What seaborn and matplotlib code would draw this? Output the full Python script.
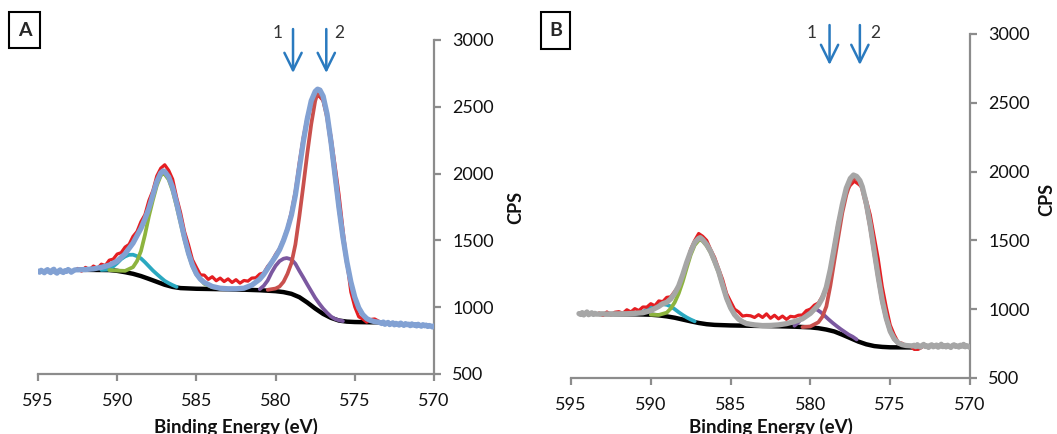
import numpy as np
import matplotlib
matplotlib.use("Agg")
import matplotlib.pyplot as plt
import seaborn as sns
from matplotlib.patches import Rectangle

sns.set_style("white")
plt.rcParams["font.family"] = ["Lato", "DejaVu Sans"]

# ---------------- Panel A data ----------------
A_edgeL_x = np.round(np.arange(595.0, 592.55, -0.1), 2)
A_edgeL_y = [1270, 1262, 1276, 1268, 1258, 1274, 1281, 1266, 1259, 1277, 1284, 1263, 1255,
             1271, 1279, 1265, 1260, 1273, 1268, 1282, 1274, 1262, 1270, 1278, 1280]
A_env_x = [592.5, 592.0, 591.5, 591.0, 590.5, 590.0, 589.5, 589.0, 588.5, 588.25, 588.0, 587.75,
           587.5, 587.25, 587.1, 587.0, 586.75, 586.5, 586.25, 586.0, 585.75, 585.5, 585.25, 585.0,
           584.75, 584.5, 584.0, 583.5, 583.0, 582.5, 582.0, 581.5, 581.0, 580.75, 580.5, 580.25,
           580.0, 579.75, 579.5, 579.25, 579.0, 578.75, 578.5, 578.25, 578.0, 577.75, 577.5, 577.35,
           577.2, 577.0, 576.75, 576.5, 576.25, 576.0, 575.75, 575.5, 575.25, 575.0, 574.75, 574.5,
           574.25, 574.0, 573.75, 573.5]
A_env_y = [1280, 1282, 1287, 1298, 1315, 1345, 1400, 1480, 1590, 1660, 1740, 1840,
           1940, 2005, 2020, 2015, 1975, 1895, 1780, 1650, 1520, 1405, 1315, 1250,
           1210, 1185, 1155, 1142, 1138, 1138, 1142, 1165, 1210, 1245, 1290, 1335,
           1380, 1430, 1500, 1585, 1690, 1840, 2040, 2240, 2410, 2545, 2615, 2632,
           2625, 2580, 2445, 2235, 1990, 1745, 1525, 1340, 1190, 1075, 995, 945,
           915, 900, 892, 888]
A_edgeR_x = np.round(np.arange(573.4, 569.95, -0.1), 2)
A_edgeR_y = [884, 878, 889, 872, 880, 886, 870, 876, 883, 868, 879, 874, 866, 881, 872, 864, 877,
             869, 873, 862, 875, 866, 870, 860, 872, 864, 858, 869, 861, 866, 856, 863, 859, 852, 860]

A_raw_x = np.round(np.arange(592.5, 573.45, -0.25), 2)
A_raw_y = [1290, 1270, 1298, 1280, 1308, 1290, 1322, 1312, 1352, 1360, 1398,
           1408, 1450, 1470, 1530, 1566, 1640, 1692, 1798, 1872, 1982, 2040,
           2066, 2024, 1958, 1822, 1708, 1566, 1468, 1356, 1298, 1242, 1240,
           1208, 1228, 1198, 1218, 1192, 1212, 1185, 1206, 1180, 1200, 1195,
           1218, 1220, 1248, 1256, 1306, 1340, 1396, 1440, 1510, 1595, 1716,
           1874, 2086, 2274, 2426, 2504, 2576, 2580, 2546, 2434, 2276, 2064,
           1846, 1584, 1340, 1114, 1002, 928, 912, 888, 908, 912, 896]

A_bg_x = [592.5, 591.5, 590.5, 590.0, 589.5, 589.0, 588.5, 588.0, 587.5, 587.0, 586.5, 586.0,
          585.0, 584.0, 583.0, 582.0, 581.0, 580.0, 579.5, 579.0, 578.5, 578.0, 577.5, 577.0,
          576.5, 576.0, 575.5, 575.0, 574.0, 573.5]
A_bg_y = [1280, 1279, 1278, 1272, 1262, 1250, 1233, 1212, 1190, 1168, 1152, 1143,
          1138, 1136, 1134, 1131, 1127, 1120, 1113, 1100, 1075, 1035, 990, 950,
          920, 900, 892, 889, 887, 887]

A_cy_x = [591.0, 590.5, 590.25, 590.0, 589.75, 589.5, 589.25, 589.0, 588.75, 588.5, 588.25, 588.0,
          587.75, 587.5, 587.25, 587.0, 586.75, 586.5, 586.25]
A_cy_y = [1279, 1282, 1305, 1330, 1360, 1380, 1392, 1393, 1382, 1365, 1337, 1306,
          1275, 1248, 1222, 1197, 1180, 1165, 1152]

A_gr_x = [590.5, 590.0, 589.5, 589.0, 588.75, 588.5, 588.25, 588.0, 587.75, 587.5, 587.25, 587.1,
          587.0, 586.75, 586.5, 586.25, 586.0, 585.75, 585.5, 585.25, 585.0, 584.5, 584.0, 583.5]
A_gr_y = [1278, 1274, 1272, 1300, 1345, 1420, 1540, 1680, 1800, 1910, 1985, 2000,
          1995, 1955, 1870, 1755, 1630, 1505, 1395, 1305, 1245, 1175, 1150, 1140]

A_pu_x = [581.0, 580.75, 580.5, 580.25, 580.0, 579.75, 579.5, 579.3, 579.0, 578.75, 578.5, 578.25,
          578.0, 577.75, 577.5, 577.25, 577.0, 576.75, 576.5, 576.25, 576.0, 575.75]
A_pu_y = [1135, 1160, 1200, 1260, 1310, 1345, 1363, 1368, 1358, 1325, 1272, 1222,
          1170, 1120, 1070, 1028, 990, 958, 930, 912, 902, 896]

A_dr_x = [580.5, 580.0, 579.75, 579.5, 579.25, 579.0, 578.75, 578.5, 578.25, 578.0, 577.75, 577.5,
          577.35, 577.2, 577.0, 576.75, 576.5, 576.25, 576.0, 575.75, 575.5, 575.25, 575.0, 574.75,
          574.5, 574.25, 574.0, 573.75, 573.5]
A_dr_y = [1130, 1140, 1155, 1190, 1250, 1330, 1470, 1680, 1910, 2150, 2370, 2545,
          2600, 2595, 2550, 2420, 2215, 1975, 1735, 1515, 1330, 1185, 1070, 990,
          940, 912, 898, 890, 887]

# ---------------- Panel B data ----------------
B_edgeL_x = np.round(np.arange(594.5, 593.35, -0.1), 2)
B_edgeL_y = [968, 962, 975, 958, 970, 980, 960, 966, 974, 962, 970, 964]
B_env_x = [593.25, 592.5, 591.5, 591.0, 590.5, 590.0, 589.5, 589.25, 589.0, 588.75, 588.5, 588.25,
           588.0, 587.75, 587.5, 587.25, 587.0, 586.9, 586.75, 586.5, 586.25, 586.0, 585.75, 585.5,
           585.25, 585.0, 584.75, 584.5, 584.25, 584.0, 583.5, 583.0, 582.5, 582.0, 581.5, 581.0,
           580.5, 580.0, 579.75, 579.5, 579.25, 579.0, 578.75, 578.5, 578.25, 578.0, 577.75, 577.5,
           577.3, 577.1, 576.9, 576.75, 576.5, 576.25, 576.0, 575.75, 575.5, 575.25, 575.0, 574.75,
           574.5, 574.25, 574.0, 573.6]
B_env_y = [965, 966, 967, 970, 974, 990, 1020, 1040, 1050, 1075, 1115, 1170,
           1250, 1340, 1420, 1485, 1515, 1520, 1505, 1470, 1420, 1350, 1275, 1175,
           1080, 1010, 960, 928, 908, 895, 886, 881, 882, 886, 895, 910,
           930, 970, 1000, 1030, 1080, 1160, 1290, 1450, 1615, 1760, 1880, 1950,
           1975, 1965, 1935, 1890, 1770, 1610, 1420, 1235, 1065, 935, 840, 785,
           755, 742, 736, 733]
B_edgeR_x = np.round(np.arange(573.5, 569.95, -0.1), 2)
B_edgeR_y = [738, 728, 742, 731, 725, 737, 744, 729, 734, 722, 736, 741, 727, 733, 739, 724, 731,
             745, 728, 735, 726, 738, 730, 722, 736, 741, 729, 733, 725, 738, 731, 744, 727, 735,
             729, 722]

B_raw_x = np.round(np.arange(593.25, 572.95, -0.25), 2)
B_raw_y = [972, 955, 980, 960, 978, 982, 970, 996, 980, 1004, 990,
           1016, 1015, 1040, 1025, 1060, 1055, 1086, 1090, 1130, 1165, 1250,
           1325, 1436, 1500, 1550, 1530, 1500, 1434, 1376, 1294, 1216, 1114,
           1056, 1000, 980, 950, 955, 952, 940, 960, 940, 966, 934,
           956, 930, 950, 926, 948, 944, 956, 958, 990, 1000, 1030,
           1045, 1095, 1160, 1295, 1465, 1635, 1755, 1855, 1900, 1930, 1910,
           1885, 1795, 1685, 1525, 1365, 1165, 1015, 885, 815, 760, 752,
           734, 734, 708, 708, 724]

B_bg_x = [593.25, 591.0, 590.0, 589.5, 589.0, 588.5, 588.0, 587.5, 587.0, 586.5, 586.0, 585.0,
          584.0, 583.0, 582.0, 581.0, 580.0, 579.5, 579.0, 578.5, 578.0, 577.5, 577.0, 576.5,
          576.0, 575.5, 575.0, 573.6]
B_bg_y = [965, 963, 960, 955, 948, 938, 925, 912, 900, 891, 886, 882,
          880, 878, 876, 873, 868, 862, 852, 838, 815, 790, 765, 745,
          732, 726, 723, 722]

B_cy_x = [591.0, 590.75, 590.5, 590.25, 590.0, 589.75, 589.5, 589.25, 589.0, 588.75, 588.5, 588.25,
          588.0, 587.75, 587.5, 587.25]
B_cy_y = [964, 972, 982, 996, 1010, 1024, 1033, 1036, 1032, 1020, 1000, 978,
          958, 940, 925, 912]

B_gr_x = [590.0, 589.5, 589.0, 588.75, 588.5, 588.25, 588.0, 587.75, 587.5, 587.25, 587.0, 586.9,
          586.75, 586.5, 586.25, 586.0, 585.75, 585.5, 585.25, 585.0, 584.75, 584.5, 584.0, 583.5]
B_gr_y = [960, 958, 975, 1005, 1050, 1115, 1200, 1300, 1395, 1465, 1500, 1505,
          1495, 1460, 1410, 1340, 1265, 1170, 1078, 1008, 958, 925, 898, 886]

B_pu_x = [581.0, 580.75, 580.5, 580.25, 580.0, 579.85, 579.6, 579.35, 579.1, 578.85, 578.6, 578.35,
          578.1, 577.85, 577.6, 577.35, 577.1]
B_pu_y = [880, 905, 940, 975, 998, 1005, 998, 978, 952, 925, 900, 877,
          855, 835, 815, 800, 780]

B_dr_x = [580.5, 580.0, 579.5, 579.25, 579.0, 578.75, 578.5, 578.25, 578.0, 577.75, 577.5, 577.3,
          577.1, 576.9, 576.75, 576.5, 576.25, 576.0, 575.75, 575.5, 575.25, 575.0, 574.75, 574.5,
          574.25, 574.0, 573.6]
B_dr_y = [870, 875, 905, 945, 1020, 1170, 1350, 1525, 1700, 1830, 1920, 1955,
          1948, 1925, 1870, 1750, 1590, 1405, 1222, 1052, 928, 836, 782, 753,
          740, 735, 732]

# arrows (peak markers) and labels
A_arrow_x = [578.9, 576.8]
B_arrow_x = [578.8, 576.9]
arrow_labels = ["1", "2"]
x_ticks = [595, 590, 585, 580, 575, 570]
y_ticks = [500, 1000, 1500, 2000, 2500, 3000]

# ---------------- styling ----------------
C_RAW = "#e41e22"
C_BG = "#000000"
C_GR = "#8db43e"
C_CY = "#2aa8c0"
C_PU = "#7b58a0"
C_DR = "#c9504d"
C_ARROW = "#2a7abf"
C_AX = "#8c8c8c"

fig = plt.figure(figsize=(10.57, 4.34), dpi=100)
W, H = 1057, 434


def axes_px(l, t, r, b):
    return fig.add_axes([l / W, 1 - b / H, (r - l) / W, (b - t) / H])


axA = axes_px(38, 40, 434, 374)
axB = axes_px(571, 34, 970, 378)


def line(ax, x, y, color, lw, z):
    sns.lineplot(x=list(x), y=list(y), ax=ax, color=color, linewidth=lw, sort=False,
                 estimator=None, zorder=z, solid_capstyle="round", solid_joinstyle="round")


def panel(ax, env, env_color, raw, bg, cy, gr, pu, dr, arrow_x, arrow_top, arrow_tip, lab_y,
          lab_dx):
    line(ax, *bg, C_BG, 3.2, 2)
    line(ax, *cy, C_CY, 2.7, 3)
    line(ax, *gr, C_GR, 2.7, 3)
    line(ax, *pu, C_PU, 2.7, 3)
    line(ax, *raw, C_RAW, 2.3, 4)
    line(ax, *dr, C_DR, 2.7, 5)
    line(ax, *env, env_color, 3.8, 6)

    ax.set_xlim(595, 570)
    ax.set_ylim(500, 3000)
    ax.set_xticks(x_ticks)
    ax.set_yticks(y_ticks)
    ax.yaxis.tick_right()
    for s in ["left", "top"]:
        ax.spines[s].set_visible(False)
    for s in ["right", "bottom"]:
        ax.spines[s].set_color(C_AX)
        ax.spines[s].set_linewidth(1.6)
    ax.tick_params(axis="both", direction="out", length=5, width=1.6, color=C_AX,
                   labelsize=13, labelcolor="#111111")
    ax.tick_params(axis="x", pad=9, bottom=True)
    ax.tick_params(axis="y", pad=8, right=True, left=False, labelright=True, labelleft=False)
    ax.grid(False)
    ax.set_xlabel("Binding Energy (eV)", fontsize=13.5, fontweight="bold", color="#111111")
    ax.set_ylabel("CPS", fontsize=13, fontweight="bold", color="#111111")
    ax.yaxis.set_label_position("right")

    for xa, lab, dx in zip(arrow_x, arrow_labels, lab_dx):
        ax.annotate("", xy=(xa, arrow_tip), xytext=(xa, arrow_top),
                    arrowprops=dict(arrowstyle="->,head_width=0.62,head_length=1.25",
                                    color=C_ARROW, lw=1.8, mutation_scale=10,
                                    shrinkA=0, shrinkB=0),
                    annotation_clip=False)
        ax.text(xa + dx, lab_y, lab, fontsize=12.5, color="#333333", ha="center", va="center",
                clip_on=False)


envA = (list(A_edgeL_x) + A_env_x + list(A_edgeR_x), A_edgeL_y + A_env_y + A_edgeR_y)
envB = (list(B_edgeL_x) + B_env_x + list(B_edgeR_x), B_edgeL_y + B_env_y + B_edgeR_y)

panel(axA, envA, "#82a1d3", (A_raw_x, A_raw_y), (A_bg_x, A_bg_y), (A_cy_x, A_cy_y),
      (A_gr_x, A_gr_y), (A_pu_x, A_pu_y), (A_dr_x, A_dr_y), A_arrow_x, 3082, 2753, 3052,
      [1.0, -0.8])
panel(axB, envB, "#a6a6a6", (B_raw_x, B_raw_y), (B_bg_x, B_bg_y), (B_cy_x, B_cy_y),
      (B_gr_x, B_gr_y), (B_pu_x, B_pu_y), (B_dr_x, B_dr_y), B_arrow_x, 3065, 2775, 3007,
      [1.15, -0.95])

# label positions (in axes coordinates)
axA.xaxis.set_label_coords(0.5, (374 - 418) / 334)
axB.xaxis.set_label_coords(0.5, (378 - 418) / 344)
for ax, xl, yl in [(axA, (516 - 38) / 396, 0.5), (axB, (1047 - 571) / 399, 0.52)]:
    ax.yaxis.set_label_coords(xl, yl)
    ax.yaxis.label.set_verticalalignment("center")
    ax.yaxis.label.set_horizontalalignment("center")

# panel tags
for (x0, y0, x1, y1, tag) in [(9, 12, 40, 48, "A"), (541, 12, 570, 49, "B")]:
    fig.patches.append(Rectangle((x0 / W, 1 - y1 / H), (x1 - x0) / W, (y1 - y0) / H,
                                 transform=fig.transFigure, fill=True, fc="white",
                                 ec="black", lw=1.5))
    fig.text((x0 + x1) / 2 / W, 1 - (y0 + y1) / 2 / H, tag, fontsize=14, fontweight="bold",
             ha="center", va="center")

fig.savefig("out.png", dpi=100)
